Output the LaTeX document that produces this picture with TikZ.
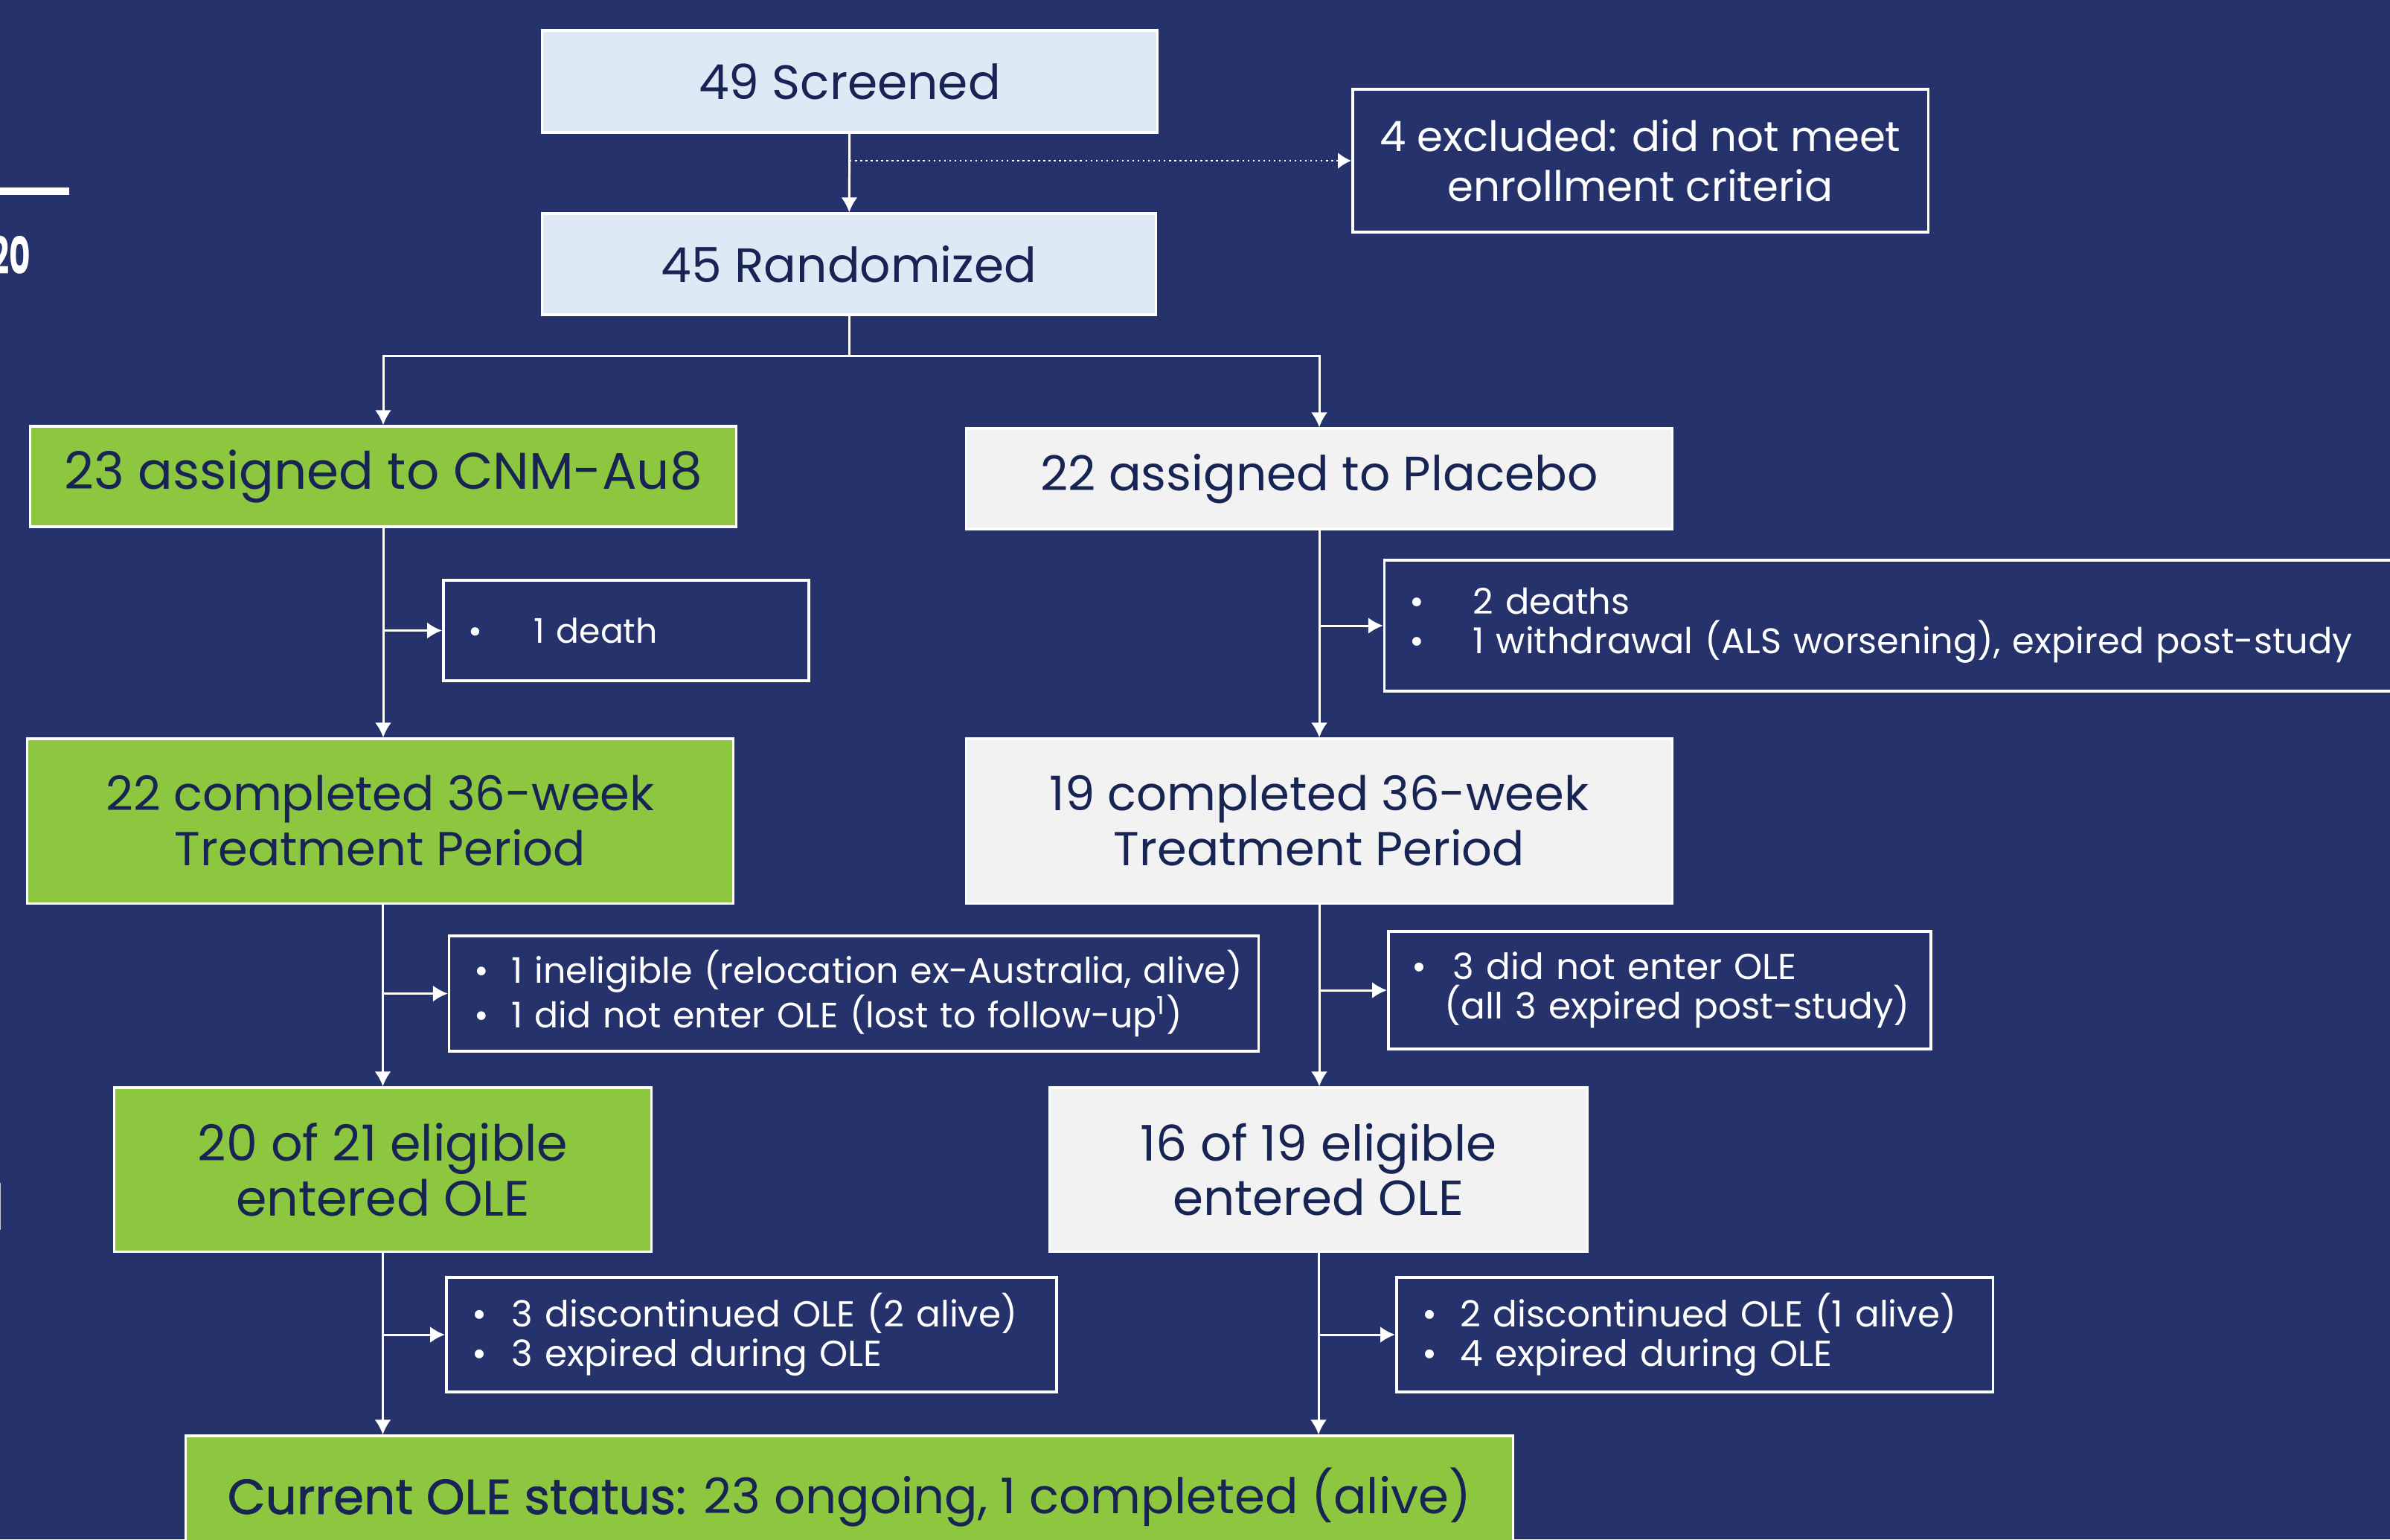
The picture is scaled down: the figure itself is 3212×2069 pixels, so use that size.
\documentclass[tikz,border=0pt]{standalone}
\usepackage{fontspec}
\setmainfont{Poppins}
\newfontfamily\medfont{Poppins}[FakeBold=1.2]
\usetikzlibrary{arrows.meta,calc}
\definecolor{navy}{RGB}{37,50,107}
\definecolor{ink}{RGB}{24,36,84}
\definecolor{paleblue}{RGB}{221,234,246}
\definecolor{leaf}{RGB}{141,198,63}
\definecolor{paper}{RGB}{242,242,242}
\newcommand\bl[1]{\makebox[#1][l]{\textbullet}}
\newcommand\fs[2]{\fontsize{#1}{#2}\selectfont}
\tikzset{
  box/.style={draw=white, line width=.9pt, text=ink, align=center, inner sep=0pt},
  bluebox/.style={box, fill=paleblue, font=\fs{18.4}{22}},
  armbox/.style={box, font=\fs{19}{23}},
  stepbox/.style={box, font=\fs{18.2}{21}},
  note/.style={draw=white, line width=1pt, text=white, align=left, inner ysep=0pt,
    font=\fs{13.8}{15.2}},
  line/.style={draw=white, line width=.85pt},
  arr/.style={line, -{Latex[length=2mm,width=2.2mm]}},
  dotarr/.style={draw=white, line width=.7pt, dash pattern=on .7pt off 1.3pt,
    -{Latex[length=1.8mm,width=2.2mm]}}
}

\begin{document}
\begin{tikzpicture}[x=0.01cm, y=-0.01cm]
  \useasboundingbox (0,0) rectangle (3212,2069);
  \clip (0,0) rectangle (3212,2069);
  \fill[navy] (0,0) rectangle (3212,2069);

  % bits of the slide cut off at the left edge
  \fill[white] (0,252) rectangle (93,262);
  \node[anchor=base east, inner sep=0pt, text=white, font=\bfseries\fs{19.5}{19.5}]
    (year) at (42,368) {\scalebox{.64}[1]{20}};
  \draw[white!75!navy, line width=.3pt] (0.5,1590) -- (0.5,1653);

  \node[bluebox, minimum width=8.26cm, minimum height=1.37cm] at (1142, 109.5)
    (screened) {49 Screened};
  \node[bluebox, minimum width=8.24cm, minimum height=1.36cm] at (1141, 355)
    (randomized) {45 Randomized};
  \node[note, align=center, minimum width=7.73cm, minimum height=1.92cm,
    font=\fs{16}{19}] at (2204.5, 216)
    (excluded) {4 excluded: did not meet\\ enrollment criteria};

  \node[armbox, fill=leaf, minimum width=9.48cm, minimum height=1.35cm,
    font=\fs{19.7}{23}] at (515, 640.5) (cnmau) {23 assigned to CNM-Au8};
  \node[armbox, fill=paper, minimum width=9.48cm, minimum height=1.35cm,
    font=\fs{18.4}{23}] at (1773, 643.5) (placebo) {22 assigned to Placebo};

  \node[note, inner xsep=.34cm, text width=4.23cm, minimum height=1.35cm,
    font=\fs{13}{15}] at (841.5, 847.5) (cnmdeath) {\bl{.88cm}1 death};
  \node[note, inner xsep=.34cm, text width=13.71cm, minimum height=1.76cm,
    font=\fs{13.6}{15.2}] at (2580.5, 841) (pbodeath)
    {\bl{.85cm}2 deaths\\
     \mbox{\bl{.85cm}1 withdrawal (ALS worsening), expired post-study}};

  \node[stepbox, fill=leaf, minimum width=9.48cm, minimum height=2.21cm]
    at (511, 1103.5) (cnmdone) {22 completed 36-week\\ Treatment Period};
  \node[stepbox, fill=paper, minimum width=9.48cm, minimum height=2.21cm]
    at (1773, 1103.5) (pbodone) {19 completed 36-week\\ Treatment Period};

  \node[note, inner xsep=.34cm, text width=10.19cm, minimum height=1.55cm,
    font=\fs{13.5}{12.6}] at (1147.5, 1335.5) (cnmskip)
    {\mbox{\bl{.5cm}1 ineligible (relocation ex-Australia, alive)}\\
     \mbox{\bl{.5cm}1 did not enter OLE (lost to follow-up\textsuperscript{1})}};
  \node[note, inner xsep=.32cm, text width=6.65cm, minimum height=1.58cm]
    at (2230.5, 1331) (pboskip)
    {\mbox{\bl{.55cm}3 did not enter OLE}\\
     \mbox{\hspace*{.44cm}(all 3 expired post-study)}};

  \node[stepbox, fill=leaf, minimum width=7.21cm, minimum height=2.2cm,
    font=\fs{19}{21}] at (514.5, 1572) (cnmole) {20 of 21 eligible\\ entered OLE};
  \node[stepbox, fill=paper, minimum width=7.22cm, minimum height=2.2cm,
    font=\fs{18.8}{21}] at (1772, 1572) (pboole) {16 of 19 eligible\\ entered OLE};

  \node[note, inner xsep=.35cm, text width=7.5cm, minimum height=1.54cm]
    at (1010, 1794) (cnmdisc)
    {\bl{.53cm}3 discontinued OLE (2 alive)\\ \bl{.53cm}3 expired during OLE};
  \node[note, inner xsep=.35cm, text width=7.31cm, minimum height=1.54cm]
    at (2277.5, 1794) (pbodisc)
    {\bl{.51cm}2 discontinued OLE (1 alive)\\ \bl{.51cm}4 expired during OLE};

  \node[stepbox, fill=leaf, minimum width=17.83cm, minimum height=1.66cm,
    font=\fs{18.75}{21}] at (1141.5, 2013) (current)
    {{\medfont Current OLE status:} 23 ongoing, 1 completed (alive)};

  \draw[arr] (screened) -- (randomized);
  \draw[dotarr] (screened.south |- excluded.west) -- (excluded.west);
  \coordinate (split) at ($(randomized.south)+(0,54)$);
  \draw[line] (randomized) -- (split);
  \draw[arr] (split) -| (cnmau);
  \draw[arr] (split) -| (placebo);

  \draw[arr] (cnmau.south) -- (cnmau.south |- cnmdone.north);
  \draw[arr] (cnmau.south |- cnmdeath) -- (cnmdeath);
  \draw[arr] (placebo.south) -- (placebo.south |- pbodone.north);
  \draw[arr] (placebo.south |- pbodeath) -- (pbodeath);

  \draw[arr] (cnmole.north |- cnmdone.south) -- (cnmole.north);
  \draw[arr] (cnmole.north |- cnmskip) -- (cnmskip);
  \draw[arr] (pbodone.south) -- (pbodone.south |- pboole.north);
  \draw[arr] (pbodone.south |- pboskip) -- (pboskip);

  \draw[arr] (cnmole.south) -- (cnmole.south |- current.north);
  \draw[arr] (cnmole.south |- cnmdisc) -- (cnmdisc);
  \draw[arr] (pboole.south) -- (pboole.south |- current.north);
  \draw[arr] (pboole.south |- pbodisc) -- (pbodisc);
\end{tikzpicture}
\end{document}
